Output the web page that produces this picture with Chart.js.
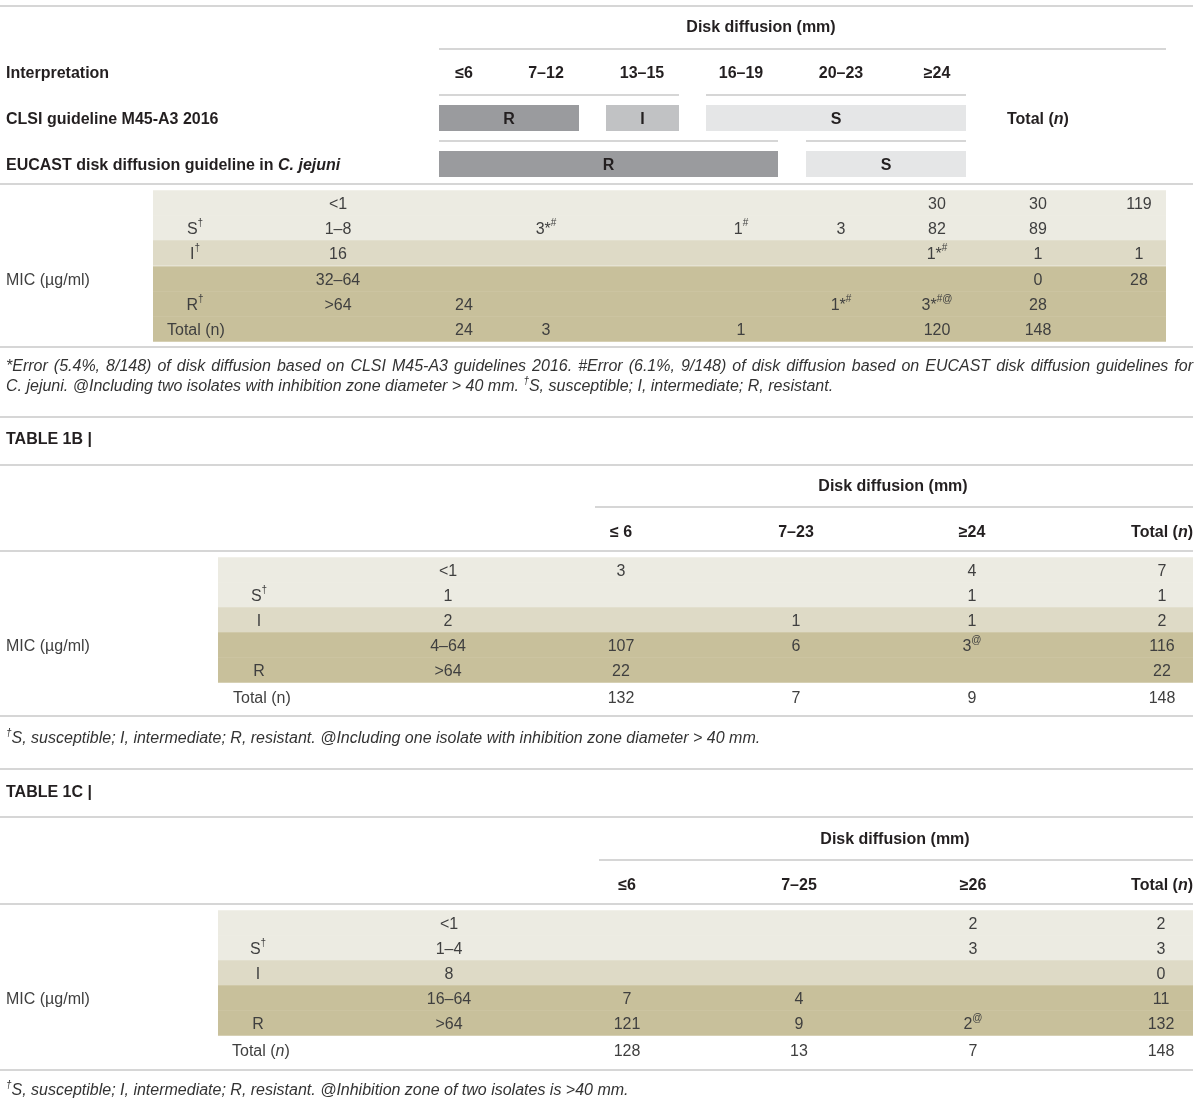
<!DOCTYPE html>
<html>
<head>
<meta charset="utf-8">
<script src="https://cdn.jsdelivr.net/npm/chart.js@4.4.1/dist/chart.umd.min.js"></script>
<style>
  html, body { margin: 0; padding: 0; background: #fff; }
  #wrap { width: 1200px; height: 1104px; }
</style>
</head>
<body>
<div id="wrap"><canvas id="table" width="1200" height="1104"></canvas></div>
<script>
// ---------- Table 1A ----------
const zonesA = ['≤6', '7–12', '13–15', '16–19', '20–23', '≥24'];
const clsiA = ['R', 'R', 'I', 'S', 'S', 'S'];
const eucastA = ['R', 'R', 'R', 'R', 'S', 'S'];
const micA = ['<1', '1–8', '16', '32–64', '>64'];
const catA = ['S', 'S', 'I', 'R', 'R'];
const catLabelA = ['', 'S†', 'I†', '', 'R†'];
const cellsA = [
  ['', '', '', '', '', '30', '30', '119'],
  ['', '3*#', '', '1#', '3', '82', '89', ''],
  ['', '', '', '', '', '1*#', '1', '1'],
  ['', '', '', '', '', '', '0', '28'],
  ['24', '', '', '', '1*#', '3*#@', '28', '']
];
const totalA = ['24', '3', '', '1', '', '120', '148', ''];
const notesA = [
  '*Error (5.4%, 8/148) of disk diffusion based on CLSI M45-A3 guidelines 2016. #Error (6.1%, 9/148) of disk diffusion based on EUCAST disk diffusion guidelines for',
  'C. jejuni. @Including two isolates with inhibition zone diameter > 40 mm. †S, susceptible; I, intermediate; R, resistant.'
];

// ---------- Table 1B ----------
const zonesB = ['≤ 6', '7–23', '≥24'];
const micB = ['<1', '1', '2', '4–64', '>64'];
const catB = ['S', 'S', 'I', 'R', 'R'];
const catLabelB = ['', 'S†', 'I', '', 'R'];
const cellsB = [
  ['3', '', '4', '7'],
  ['', '', '1', '1'],
  ['', '1', '1', '2'],
  ['107', '6', '3@', '116'],
  ['22', '', '', '22']
];
const totalB = ['132', '7', '9', '148'];
const noteB = '†S, susceptible; I, intermediate; R, resistant. @Including one isolate with inhibition zone diameter > 40 mm.';

// ---------- Table 1C ----------
const zonesC = ['≤6', '7–25', '≥26'];
const micC = ['<1', '1–4', '8', '16–64', '>64'];
const catC = ['S', 'S', 'I', 'R', 'R'];
const catLabelC = ['', 'S†', 'I', '', 'R'];
const cellsC = [
  ['', '', '2', '2'],
  ['', '', '3', '3'],
  ['', '', '', '0'],
  ['7', '4', '', '11'],
  ['121', '9', '2@', '132']
];
const totalC = ['128', '13', '7', '148'];
const noteC = '†S, susceptible; I, intermediate; R, resistant. @Inhibition zone of two isolates is >40 mm.';

// ---------- layout & style ----------
const FONT = '"Liberation Sans", Arial, Helvetica, sans-serif';
const W = 1200, H = 1104;
const RIGHT = 1193;
const TEXT_DY = 1.5;
const ruleColor = '#d6d6d6';
const bandColor = { S: '#ecebe2', I: '#dedac6', R: '#c8c09b' };
const barColor = { R: '#9a9b9e', I: '#c1c2c4', S: '#e5e6e7' };
const head = { size: 16, weight: 'bold', color: '#231f20' };
const body = { size: 16, weight: 'normal', color: '#3f3f3f' };
const note = { size: 16, weight: 'normal', italic: true, color: '#333333' };

const LA = {
  zoneX: [464, 546, 642, 741, 841, 937],
  zoneEdge: [[439, 490], [505, 579], [606, 679], [706, 778], [806, 876], [900, 966]],
  colX: [464, 546, 642, 741, 841, 937, 1038, 1139],
  rowY: [203, 228, 253, 279, 304, 329],
  band: [153, 1166], catX: 195, micX: 338, totalX: 167, clsiY: 118, eucastY: 164
};
const LB = {
  title: [893, 485], headY: 531, colX: [621, 796, 972, 1162],
  rowY: [570, 595, 620, 645, 670, 697], band: [218, RIGHT],
  catX: 259, micX: 448, totalX: 233, micLabelY: 645, noteY: 737
};
const LC = {
  title: [895, 838], headY: 884, colX: [627, 799, 973, 1161],
  rowY: [923, 948, 973, 998, 1023, 1050], band: [218, RIGHT],
  catX: 258, micX: 449, totalX: 232, micLabelY: 998, noteY: 1089
};

const rules = [
  [6, 0, RIGHT], [49, 439, 1166], [95, 439, 679], [95, 706, 966],
  [141, 439, 778], [141, 806, 966], [184, 0, RIGHT], [347, 0, RIGHT],
  [417, 0, RIGHT], [465, 0, RIGHT], [507, 595, RIGHT], [551, 0, RIGHT],
  [716, 0, RIGHT], [769, 0, RIGHT], [817, 0, RIGHT], [860, 599, RIGHT],
  [904, 0, RIGHT], [1070, 0, RIGHT]
];

// ---------- datasets ----------
const bandPts = [], bandCols = [];
function addBands(cats, L, totalCat) {
  cats.forEach((c, i) => {
    bandPts.push({ x: L.band, y: L.rowY[i] });
    bandCols.push(bandColor[c]);
  });
  if (totalCat) {
    bandPts.push({ x: L.band, y: L.rowY[cats.length] });
    bandCols.push(bandColor[totalCat]);
  }
}
addBands(catA, LA, 'R');
addBands(catB, LB);
addBands(catC, LC);

function runsOf(arr) {
  const out = [];
  arr.forEach((v, i) => {
    const last = out[out.length - 1];
    if (last && last.label === v) last.end = i;
    else out.push({ label: v, start: i, end: i });
  });
  return out;
}
const interp = [];
runsOf(clsiA).forEach(r => interp.push({ ...r, y: LA.clsiY }));
runsOf(eucastA).forEach(r => interp.push({ ...r, y: LA.eucastY }));
const barPts = interp.map(r => ({ x: [LA.zoneEdge[r.start][0], LA.zoneEdge[r.end][1]], y: r.y }));

// ---------- text ----------
const texts = [];
function addText(x, y, str, st, align, sup) {
  texts.push({ x, y, str, st, align: align || 'center', sup: sup || '' });
}
function addJustified(x0, x1, y, str, st, sup) {
  texts.push({ x: x0, x1, y, str, st, justify: true, sup: sup || '' });
}

// 1A
addText(761, 26, 'Disk diffusion (mm)', head);
addText(6, 72, 'Interpretation', head, 'left');
zonesA.forEach((z, i) => addText(LA.zoneX[i], 72, z, head));
addText(6, LA.clsiY, 'CLSI guideline M45-A3 2016', head, 'left');
addText(6, LA.eucastY, 'EUCAST disk diffusion guideline in ~C. jejuni~', head, 'left');
addText(1007, LA.clsiY, 'Total (~n~)', head, 'left');
interp.forEach((r, i) => {
  const p = barPts[i];
  addText((p.x[0] + p.x[1]) / 2, r.y, r.label, head);
});

function addBody(L, mic, catLabel, cells, total, totalLabel) {
  mic.forEach((m, i) => {
    addText(L.catX, L.rowY[i], catLabel[i], body, 'center', '†');
    addText(L.micX, L.rowY[i], m, body);
    cells[i].forEach((v, j) => addText(L.colX[j], L.rowY[i], v, body, 'center', '#@†'));
  });
  const ty = L.rowY[mic.length];
  addText(L.totalX, ty, totalLabel, body, 'left');
  total.forEach((v, j) => addText(L.colX[j], ty, v, body));
}
addText(6, 279, 'MIC (µg/ml)', body, 'left');
addBody(LA, micA, catLabelA, cellsA, totalA, 'Total (n)');
addJustified(6, RIGHT, 365, notesA[0], note);
addText(6, 385, notesA[1], note, 'left', '†');

// 1B
addText(6, 438, 'TABLE 1B |', head, 'left');
addText(LB.title[0], LB.title[1], 'Disk diffusion (mm)', head);
zonesB.forEach((z, i) => addText(LB.colX[i], LB.headY, z, head));
addText(RIGHT, LB.headY, 'Total (~n~)', head, 'right');
addText(6, LB.micLabelY, 'MIC (µg/ml)', body, 'left');
addBody(LB, micB, catLabelB, cellsB, totalB, 'Total (n)');
addText(6, LB.noteY, noteB, note, 'left', '†');

// 1C
addText(6, 791, 'TABLE 1C |', head, 'left');
addText(LC.title[0], LC.title[1], 'Disk diffusion (mm)', head);
zonesC.forEach((z, i) => addText(LC.colX[i], LC.headY, z, head));
addText(RIGHT, LC.headY, 'Total (~n~)', head, 'right');
addText(6, LC.micLabelY, 'MIC (µg/ml)', body, 'left');
addBody(LC, micC, catLabelC, cellsC, totalC, 'Total (~n~)');
addText(6, LC.noteY, noteC, note, 'left', '†');

// ---------- rich text helpers ----------
function parseRuns(str, supChars) {
  const runs = [];
  let italic = false, cur = null;
  for (const ch of str) {
    if (ch === '~') { italic = !italic; cur = null; continue; }
    const sup = supChars.includes(ch);
    if (!cur || cur.italic !== italic || cur.sup !== sup) {
      cur = { t: '', italic, sup };
      runs.push(cur);
    }
    cur.t += ch;
  }
  return runs;
}
function runFont(r, st) {
  const size = r.sup ? Math.round(st.size * 0.62) : st.size;
  return `${r.italic || st.italic ? 'italic ' : ''}${st.weight} ${size}px ${FONT}`;
}
function measureRuns(ctx, runs, st) {
  let w = 0;
  for (const r of runs) { ctx.font = runFont(r, st); w += ctx.measureText(r.t).width; }
  return w;
}
function drawRuns(ctx, runs, x, y, st) {
  let cx = x;
  for (const r of runs) {
    ctx.font = runFont(r, st);
    ctx.fillText(r.t, cx, r.sup ? y - st.size * 0.36 : y);
    cx += ctx.measureText(r.t).width;
  }
}

const tableText = {
  id: 'tableText',
  afterDatasetsDraw(chart) {
    const { ctx, scales: { x, y } } = chart;
    ctx.save();
    ctx.textBaseline = 'middle';
    ctx.textAlign = 'left';
    for (const t of texts) {
      if (!t.str) continue;
      ctx.fillStyle = t.st.color;
      const py = y.getPixelForValue(t.y) + TEXT_DY;
      if (t.justify) {
        const x0 = x.getPixelForValue(t.x), x1 = x.getPixelForValue(t.x1);
        const words = t.str.split(' ').map(w => parseRuns(w, t.sup));
        const widths = words.map(w => measureRuns(ctx, w, t.st));
        const gap = (x1 - x0 - widths.reduce((a, b) => a + b, 0)) / (words.length - 1);
        let cx = x0;
        words.forEach((w, i) => { drawRuns(ctx, w, cx, py, t.st); cx += widths[i] + gap; });
        continue;
      }
      const runs = parseRuns(t.str, t.sup);
      const w = measureRuns(ctx, runs, t.st);
      let px = x.getPixelForValue(t.x);
      if (t.align === 'center') px -= w / 2;
      else if (t.align === 'right') px -= w;
      drawRuns(ctx, runs, px, py, t.st);
    }
    ctx.restore();
  }
};

new Chart(document.getElementById('table'), {
  type: 'bar',
  data: {
    datasets: [
      { data: bandPts, backgroundColor: bandCols, barThickness: 25.5 },
      { data: barPts, backgroundColor: interp.map(r => barColor[r.label]), barThickness: 26 },
      {
        data: rules.map(r => ({ x: [r[1], r[2]], y: r[0] })),
        backgroundColor: ruleColor,
        barThickness: 2
      }
    ]
  },
  options: {
    indexAxis: 'y',
    responsive: false,
    animation: false,
    devicePixelRatio: 1,
    events: [],
    layout: { padding: 0 },
    datasets: { bar: { grouped: false, borderWidth: 0, borderSkipped: false, inflateAmount: 0 } },
    plugins: { legend: { display: false }, tooltip: { enabled: false } },
    scales: {
      x: { type: 'linear', min: 0, max: W, display: false, offset: false },
      y: { type: 'linear', min: 0, max: H, reverse: true, display: false, offset: false }
    }
  },
  plugins: [tableText]
});
</script>
</body>
</html>
